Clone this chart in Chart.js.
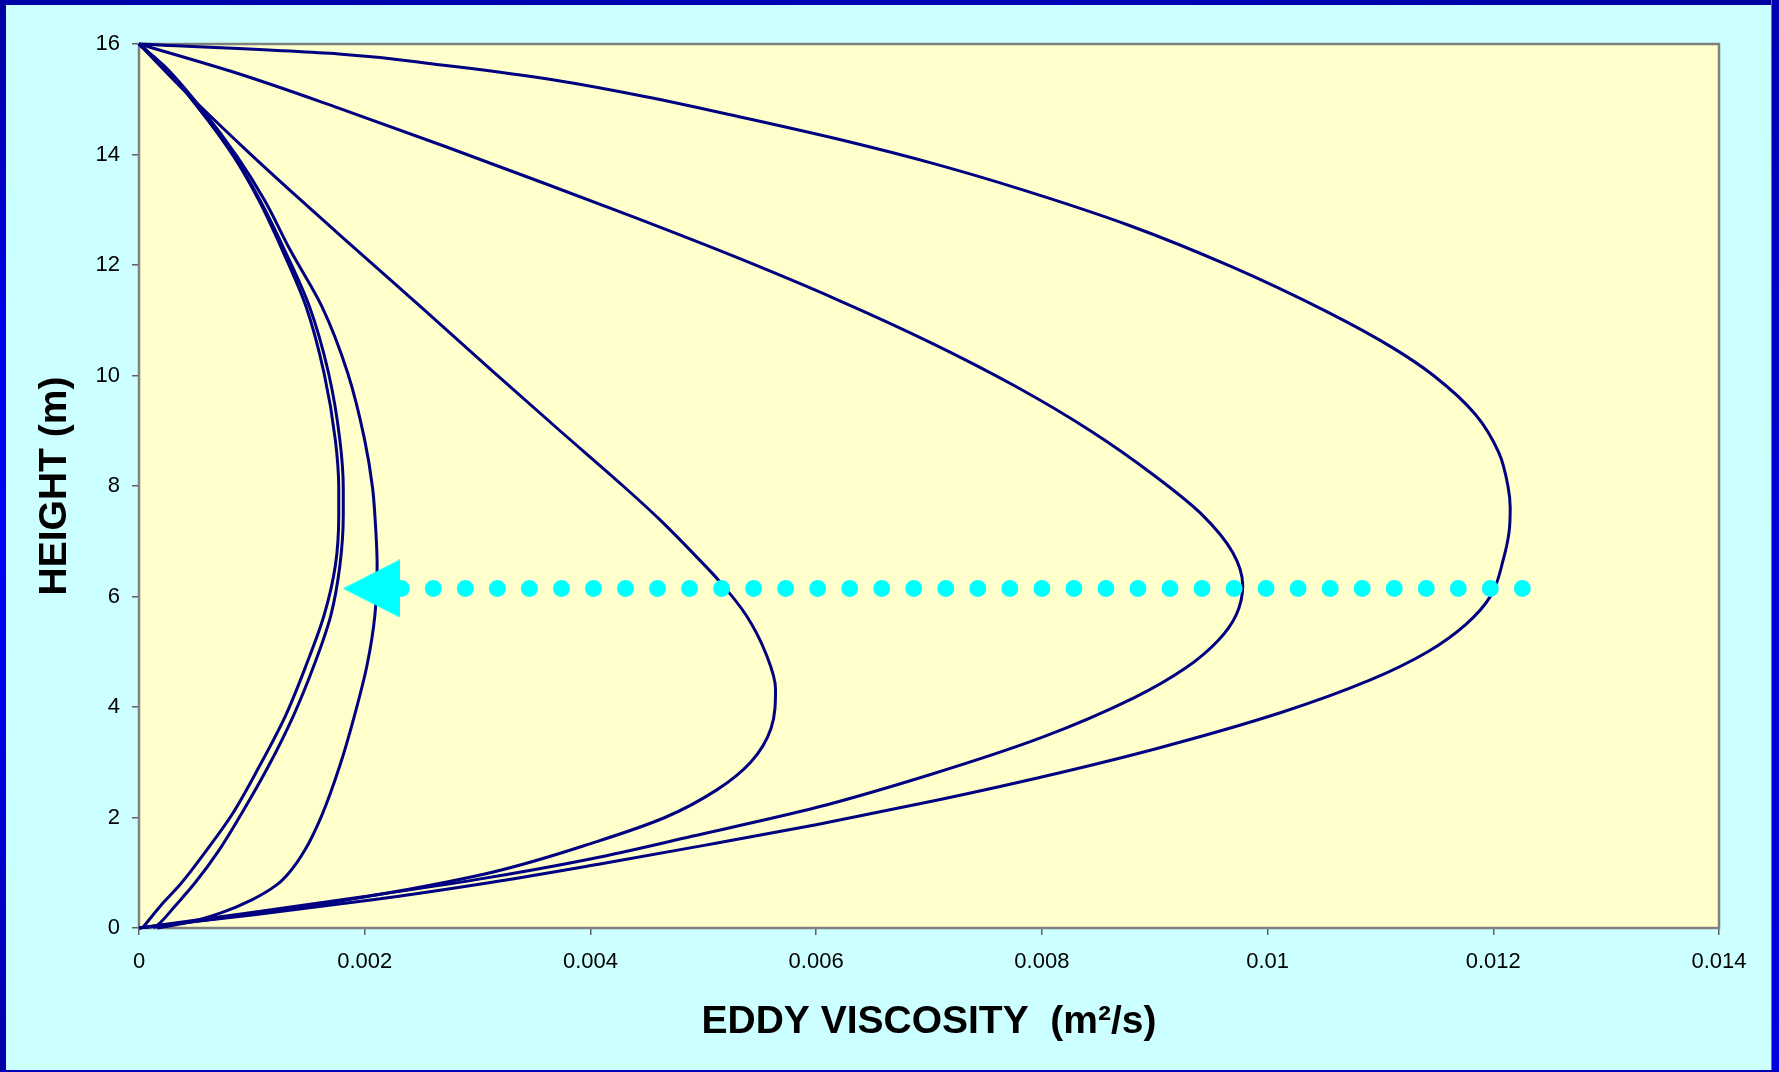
<!DOCTYPE html>
<html>
<head>
<meta charset="utf-8">
<title>Eddy viscosity profiles</title>
<script src="https://cdn.jsdelivr.net/npm/chart.js@4/dist/chart.umd.min.js"></script>
<style>
  html, body { margin: 0; padding: 0; width: 1779px; height: 1072px; overflow: hidden; background: #ccffff; }
  #frame { position: absolute; left: 0; top: 0; width: 1779px; height: 1072px; }
  .edge { position: absolute; }
  #edgeTop { left: 0; top: 0; width: 1779px; height: 5px; background: linear-gradient(90deg, #0000a8, #0000b8 60%, #0000a0); }
  #edgeLeft { left: 0; top: 0; width: 6px; height: 1072px; background: linear-gradient(180deg, #0000a0 0%, #0000e8 30%, #0000ff 50%, #0000d8 75%, #0000a8 100%); }
  #edgeRight { right: 0; top: 0; width: 8px; height: 1072px; background: linear-gradient(180deg, #0000b0 0%, #0000d8 50%, #0000e0 100%); box-shadow: inset 1px 0 0 #6060ff; }
  #edgeBottom { left: 0; bottom: 0; width: 1779px; height: 2px; background: #0000b8; }
  #chart { position: absolute; left: 0; top: 0; }
</style>
</head>
<body>
<div id="frame">
  <div class="edge" id="edgeTop"></div>
  <div class="edge" id="edgeLeft"></div>
  <div class="edge" id="edgeRight"></div>
  <div class="edge" id="edgeBottom"></div>
</div>
<canvas id="chart" width="1779" height="1072"></canvas>
<script>
// Axis ticks
const xTickValues = [0, 0.002, 0.004, 0.006, 0.008, 0.01, 0.012, 0.014];
const xTickLabels = ['0', '0.002', '0.004', '0.006', '0.008', '0.01', '0.012', '0.014'];
const yTickValues = [0, 2, 4, 6, 8, 10, 12, 14, 16];
const yTickLabels = ['0', '2', '4', '6', '8', '10', '12', '14', '16'];

// Eddy viscosity profiles (m^2/s) against height above bed (m), listed from surface to bed
const profileA_height = [16, 15.59, 14.81, 13.96, 13.18, 12.27, 11.25, 10.04, 8.83, 7.96, 7.47, 6.56, 5.66, 4.75, 3.85, 2.94, 2.04, 1.41, 0.8, 0.4, 0.1, 0];
const profileA_visc   = [0, 0.00022, 0.00054, 0.00084, 0.00106, 0.00127, 0.00148, 0.00164, 0.00174, 0.00177, 0.00177, 0.00174, 0.00164, 0.00148, 0.00130, 0.00107, 0.00082, 0.00060, 0.00037, 0.00019, 0.00007, 0.00003];

const profileB_height = [16, 15.59, 14.81, 13.96, 13.18, 12.27, 11.25, 10.04, 8.83, 7.96, 7.47, 6.56, 5.66, 4.75, 3.85, 2.94, 2.04, 1.41, 0.8, 0.4, 0.1, 0];
const profileB_visc   = [0, 0.00022, 0.00054, 0.00085, 0.00107, 0.00129, 0.00151, 0.00168, 0.00178, 0.00181, 0.00181, 0.00178, 0.00170, 0.00155, 0.00137, 0.00115, 0.00090, 0.00071, 0.00049, 0.00032, 0.00019, 0.00013];

const profileC_height = [16, 15.59, 14.81, 13.96, 13.18, 12.27, 11.25, 10.04, 8.83, 7.96, 7.47, 6.56, 5.66, 4.75, 3.85, 2.94, 2.04, 1.41, 1.0, 0.78, 0.51, 0.27, 0.1, 0];
const profileC_visc   = [0, 0.00023, 0.00056, 0.00087, 0.00111, 0.00134, 0.00162, 0.00185, 0.00200, 0.00207, 0.00209, 0.00211, 0.00209, 0.00202, 0.00191, 0.00178, 0.00162, 0.00147, 0.00133, 0.00122, 0.00100, 0.00072, 0.00043, 0.00016];

const profileD_height = [16, 15.2, 14.08, 13.2, 12.27, 11.2, 10.1, 9.0, 8.0, 7.4, 6.74, 6.26, 5.66, 4.94, 4.33, 3.61, 3.0, 2.5, 2.0, 1.56, 1.01, 0.65, 0.35, 0.11, 0];
const profileD_visc   = [0, 0.00038, 0.00095, 0.00142, 0.00193, 0.00252, 0.00312, 0.00373, 0.00429, 0.00461, 0.00493, 0.00515, 0.00538, 0.00556, 0.00564, 0.00560, 0.00542, 0.00512, 0.00466, 0.00405, 0.00313, 0.00225, 0.00135, 0.00045, 0];

const profileE_height = [16, 15.47, 14.84, 14.14, 13.48, 12.87, 12.15, 11.37, 10.6, 9.8, 9.0, 8.2, 7.5, 6.8, 6.2, 5.66, 5.2, 4.7, 4.17, 3.45, 2.77, 2.18, 1.66, 1.25, 0.88, 0.57, 0.28, 0];
const profileE_visc   = [0, 0.00087, 0.00177, 0.00272, 0.00359, 0.00438, 0.00528, 0.00619, 0.00701, 0.00777, 0.00843, 0.00899, 0.00941, 0.00969, 0.00978, 0.00972, 0.00956, 0.00927, 0.00882, 0.00800, 0.00700, 0.00600, 0.00490, 0.00400, 0.00300, 0.00200, 0.00100, 0];

const profileF_height = [16, 15.82, 15.62, 15.38, 15.05, 14.65, 14.23, 13.83, 13.36, 12.72, 11.97, 11.16, 10.5, 10.0, 9.3, 8.6, 8.0, 7.6, 7.17, 6.68, 6.02, 5.5, 5.0, 4.48, 3.9, 3.25, 2.72, 2.27, 1.87, 1.5, 1.15, 0.82, 0.51, 0.24, 0];
const profileF_visc   = [0, 0.00177, 0.00268, 0.00358, 0.00448, 0.00539, 0.00629, 0.00705, 0.00783, 0.00877, 0.00968, 0.01052, 0.01111, 0.01147, 0.01184, 0.01205, 0.01213, 0.01215, 0.01214, 0.01209, 0.01198, 0.01176, 0.01142, 0.01090, 0.01012, 0.00902, 0.00797, 0.00697, 0.00600, 0.00502, 0.00406, 0.00310, 0.00207, 0.00102, 0];

// Dotted trend arrow across the profiles
const trendVisc   = [0.002324, 0.01226];
const trendHeight = [6.145, 6.145];
const arrowVisc   = [0.002058];
const arrowHeight = [6.145];

const profiles = [
  [profileA_visc, profileA_height],
  [profileB_visc, profileB_height],
  [profileC_visc, profileC_height],
  [profileD_visc, profileD_height],
  [profileE_visc, profileE_height],
  [profileF_visc, profileF_height]
];

function toPoints(xs, ys) {
  return xs.map((x, i) => ({ x: x, y: ys[i] }));
}

// Arrow head drawn once into an offscreen canvas, used as a point style
const arrowHead = document.createElement('canvas');
arrowHead.width = 57;
arrowHead.height = 58;
(function () {
  const c = arrowHead.getContext('2d');
  c.fillStyle = '#00ffff';
  c.beginPath();
  c.moveTo(0, 29);
  c.lineTo(57, 0);
  c.lineTo(57, 58);
  c.closePath();
  c.fill();
})();

const plotBackground = {
  id: 'plotBackground',
  beforeDraw(chart) {
    const { ctx, chartArea: a } = chart;
    ctx.save();
    ctx.fillStyle = '#ffffcc';
    ctx.fillRect(a.left, a.top, a.right - a.left, a.bottom - a.top);
    ctx.restore();
  },
  beforeDatasetsDraw(chart) {
    const { ctx, chartArea: a } = chart;
    ctx.save();
    ctx.strokeStyle = '#808080';
    ctx.lineWidth = 2.5;
    ctx.strokeRect(a.left, a.top, a.right - a.left, a.bottom - a.top);
    ctx.restore();
  }
};

// Profiles are smoothed along the height axis
const datasets = profiles.map((p) => ({
  data: toPoints(p[0], p[1]),
  indexAxis: 'y',
  showLine: true,
  borderColor: '#000080',
  borderWidth: 3,
  pointRadius: 0,
  cubicInterpolationMode: 'monotone',
  clip: 4,
  order: 2
}));

datasets.push({
  data: toPoints(trendVisc, trendHeight),
  showLine: true,
  borderColor: '#00ffff',
  borderWidth: 17,
  borderDash: [0.01, 32.02],
  borderCapStyle: 'round',
  pointRadius: 0,
  tension: 0,
  clip: false,
  order: 1
});

datasets.push({
  data: toPoints(arrowVisc, arrowHeight),
  showLine: false,
  pointStyle: arrowHead,
  pointRadius: 29,
  clip: false,
  order: 0
});

const tickFont = { family: "'Liberation Sans', Arial, sans-serif", size: 22 };
const titleFont = { family: "'Liberation Sans', Arial, sans-serif", size: 39, weight: 'bold' };

new Chart(document.getElementById('chart'), {
  type: 'scatter',
  data: { datasets: datasets },
  plugins: [plotBackground],
  options: {
    responsive: false,
    animation: false,
    devicePixelRatio: 1,
    layout: { padding: { left: 0, right: 60, top: 44, bottom: 0 } },
    plugins: { legend: { display: false }, tooltip: { enabled: false } },
    scales: {
      x: {
        type: 'linear',
        min: 0,
        max: 0.014,
        afterBuildTicks(scale) { scale.ticks = xTickValues.map(v => ({ value: v })); },
        afterFit(scale) { scale.height = 144; },
        grid: { display: true, drawOnChartArea: false, drawTicks: true, tickLength: 7, color: '#606060', lineWidth: 1.5 },
        border: { display: false },
        ticks: {
          font: tickFont, color: '#000', padding: 14, maxRotation: 0, autoSkip: false,
          callback: (v, i) => xTickLabels[i]
        },
        title: { display: true, text: 'EDDY VISCOSITY  (m\u00B2/s)', font: titleFont, color: '#000', padding: { top: 0, bottom: 26 } }
      },
      y: {
        type: 'linear',
        min: 0,
        max: 16,
        afterBuildTicks(scale) { scale.ticks = yTickValues.map(v => ({ value: v })); },
        afterFit(scale) { scale.width = 139; },
        grid: { display: true, drawOnChartArea: false, drawTicks: true, tickLength: 7, color: '#606060', lineWidth: 1.5 },
        border: { display: false },
        ticks: {
          font: tickFont, color: '#000', padding: 12, autoSkip: false,
          callback: (v, i) => yTickLabels[i]
        },
        title: { display: true, text: 'HEIGHT (m)', font: titleFont, color: '#000', padding: { top: 32, bottom: 0 } }
      }
    }
  }
});
</script>
</body>
</html>
